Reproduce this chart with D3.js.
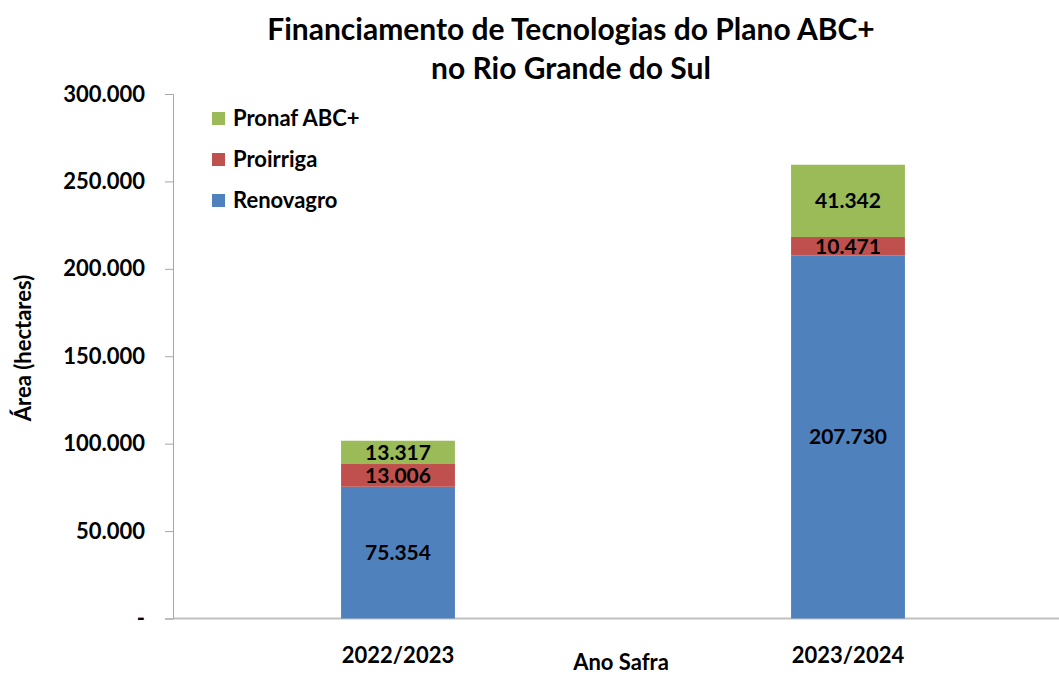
<!DOCTYPE html>
<html>
<head>
<meta charset="utf-8">
<script src="https://cdn.jsdelivr.net/npm/d3@7"></script>
<style>
body{margin:0;background:#fff}
text{font-family:"Lato","Open Sans",sans-serif;font-weight:bold}
</style>
</head>
<body>
<svg id="chart" width="1059" height="675"></svg>
<script>
// ---data---
var categories = ["2022/2023", "2023/2024"]
var seriesNames = ["Renovagro", "Proirriga", "Pronaf ABC+"]
var renovagro = [75354, 207730]
var proirriga = [13006, 10471]
var pronaf = [13317, 41342]
var yTicks = [0, 50000, 100000, 150000, 200000, 250000, 300000]
var colors = ["#4F81BD", "#C0504D", "#9BBB59"]

var svg = d3.select("#chart")
var plotLeft = 173, plotRight = 1073, plotTop = 94, plotBottom = 618.5

var rows = categories.map(function(c, i){
  return {cat: c, Renovagro: renovagro[i], Proirriga: proirriga[i], "Pronaf ABC+": pronaf[i]}
})
var stack = d3.stack().keys(seriesNames)(rows)

var xScale = d3.scaleBand().domain(categories).range([plotLeft, plotRight]).padding(0)
var yScale = d3.scaleLinear().domain([0, 300000]).range([plotBottom, plotTop])
var barW = xScale.bandwidth() * 0.253

var fmt = function(v){ return v === 0 ? "-" : d3.format(",")(v).replace(/,/g, ".") }

//---x axis line---
svg.append("line")
  .attr("x1", plotLeft).attr("x2", 1059)
  .attr("y1", yScale(0)).attr("y2", yScale(0))
  .attr("stroke", "#C0C0C0").attr("stroke-width", 2)

//---bars---
var layers = svg.selectAll(".layer")
  .data(stack).enter().append("g")
  .attr("fill", function(d, i){ return colors[i] })

layers.selectAll("rect")
  .data(function(d){ return d })
  .enter().append("rect")
  .attr("x", function(d){ return xScale(d.data.cat) + xScale.bandwidth()/2 - barW/2 })
  .attr("width", barW)
  .attr("y", function(d){ return yScale(d[1]) })
  .attr("height", function(d){ return yScale(d[0]) - yScale(d[1]) })

layers.selectAll(".lbl")
  .data(function(d){ return d })
  .enter().append("text")
  .attr("x", function(d){ return xScale(d.data.cat) + xScale.bandwidth()/2 })
  .attr("y", function(d){ return (yScale(d[0]) + yScale(d[1]))/2 })
  .attr("dy", ".35em")
  .attr("text-anchor", "middle")
  .attr("font-size", "21px")
  .attr("fill", "black")
  .text(function(d){ return fmt(d[1] - d[0]) })

//---y axis---
var yAxis = svg.append("g")
  .attr("transform", "translate(" + plotLeft + ",0)")
  .call(d3.axisLeft(yScale).tickValues(yTicks).tickSize(8).tickPadding(20).tickFormat(fmt))
yAxis.select(".domain").attr("stroke", "#A6A6A6")
yAxis.selectAll(".tick line").attr("stroke", "#A6A6A6")
yAxis.selectAll("text")
  .attr("font-size", "22px")
  .attr("fill", "black")
  .attr("font-family", "Lato")

//---category labels---
svg.selectAll(".cat")
  .data(categories).enter().append("text")
  .attr("x", function(d){ return xScale(d) + xScale.bandwidth()/2 })
  .attr("y", 663)
  .attr("text-anchor", "middle")
  .attr("font-size", "22px")
  .attr("fill", "black")
  .text(function(d){ return d })

svg.append("text")
  .attr("x", 621).attr("y", 670)
  .attr("text-anchor", "middle")
  .attr("font-size", "22px")
  .text("Ano Safra")

svg.append("text")
  .attr("transform", "translate(31 348)rotate(-90)")
  .attr("text-anchor", "middle")
  .attr("font-size", "22px")
  .text("Área (hectares)")

//---title---
svg.append("text")
  .attr("x", 571).attr("y", 40)
  .attr("text-anchor", "middle")
  .attr("font-size", "30px")
  .text("Financiamento de Tecnologias do Plano ABC+")
svg.append("text")
  .attr("x", 571).attr("y", 79)
  .attr("text-anchor", "middle")
  .attr("font-size", "30px")
  .text("no Rio Grande do Sul")

//---legend---
var legendOrder = [2, 1, 0]
var legend = svg.selectAll(".leg")
  .data(legendOrder).enter().append("g")
  .attr("transform", function(d, i){ return "translate(212," + (118 + i*41) + ")" })
legend.append("rect")
  .attr("x", 0).attr("y", -6).attr("width", 13).attr("height", 13)
  .attr("fill", function(d){ return colors[d] })
legend.append("text")
  .attr("x", 21).attr("dy", ".36em")
  .attr("font-size", "22px")
  .text(function(d){ return seriesNames[d] })
</script>
</body>
</html>
